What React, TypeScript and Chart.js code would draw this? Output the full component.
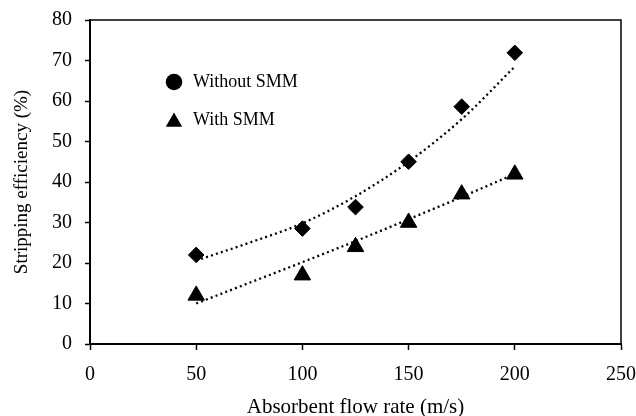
import React, { useEffect, useRef } from "react";
import { Chart, registerables } from "chart.js";

Chart.register(...registerables);

const flowRates = [50, 100, 125, 150, 175, 200];
const withoutSMM = [22.0, 28.5, 33.8, 45.0, 58.6, 71.9];
const withSMM = [12.0, 17.0, 24.0, 30.0, 37.0, 41.9];

const trendX = [50, 75, 100, 125, 150, 175, 200];
const trendWithout = [20.6, 25.0, 29.8, 36.5, 45.0, 55.5, 68.5];
const trendWith = [10.0, 15.1, 20.2, 25.4, 30.8, 36.3, 42.0];

const xTicks = [0, 50, 100, 150, 200, 250];
const yTicks = [0, 10, 20, 30, 40, 50, 60, 70, 80];

const legendLabels = ["Without SMM", "With SMM"];

const FONT = "'Liberation Serif', 'Times New Roman', serif";

const boxPlugin = {
  id: "boxAndLegend",
  afterDraw(chart: any) {
    const { ctx, chartArea } = chart;
    ctx.save();
    ctx.strokeStyle = "#000";
    ctx.lineWidth = 1.5;
    ctx.beginPath();
    ctx.moveTo(chartArea.left, chartArea.top);
    ctx.lineTo(chartArea.right, chartArea.top);
    ctx.lineTo(chartArea.right, chartArea.bottom);
    ctx.stroke();

    // legend
    const lx = 174;
    const rows = [82, 120];
    ctx.fillStyle = "#000";
    ctx.beginPath();
    ctx.arc(lx, rows[0], 8.3, 0, Math.PI * 2);
    ctx.fill();
    const r = 9.5;
    ctx.beginPath();
    ctx.moveTo(lx, rows[1] - r + 2);
    ctx.lineTo(lx + 0.866 * r, rows[1] + 0.5 * r + 2);
    ctx.lineTo(lx - 0.866 * r, rows[1] + 0.5 * r + 2);
    ctx.closePath();
    ctx.fill();
    ctx.font = `18px ${FONT}`;
    ctx.textBaseline = "middle";
    ctx.textAlign = "left";
    ctx.fillText(legendLabels[0], 193, rows[0]);
    ctx.fillText(legendLabels[1], 193, rows[1]);
    ctx.restore();
  },
};

export default function App() {
  const ref = useRef<HTMLCanvasElement | null>(null);

  useEffect(() => {
    document.body.style.margin = "0";
    const canvas = ref.current;
    if (!canvas) return;
    const pts = (xs: number[], ys: number[]) => xs.map((x, i) => ({ x, y: ys[i] }));
    const trendStyle = {
      showLine: true,
      borderColor: "#000",
      borderWidth: 2.3,
      borderDash: [2, 3.2],
      pointRadius: 0,
      cubicInterpolationMode: "monotone",
      fill: false,
    };
    const chart = new Chart(canvas, {
      type: "scatter",
      data: {
        datasets: [
          { label: "Without SMM trend", data: pts(trendX, trendWithout), ...trendStyle } as any,
          { label: "With SMM trend", data: pts(trendX, trendWith), ...trendStyle } as any,
          {
            label: legendLabels[0],
            data: pts(flowRates, withoutSMM),
            pointStyle: "rectRot",
            pointRadius: 7.8,
            backgroundColor: "#000",
            borderColor: "#000",
            borderWidth: 1,
          },
          {
            label: legendLabels[1],
            data: pts(flowRates, withSMM),
            pointStyle: "triangle",
            pointRadius: 9.5,
            backgroundColor: "#000",
            borderColor: "#000",
            borderWidth: 1,
          },
        ],
      },
      options: {
        animation: false,
        responsive: false,
        maintainAspectRatio: false,
        layout: { padding: { left: 0, right: 15, top: 20, bottom: 0 } },
        plugins: {
          legend: { display: false },
          tooltip: { enabled: false },
        },
        scales: {
          x: {
            type: "linear",
            min: 0,
            max: 250,
            afterBuildTicks: (s: any) => {
              s.ticks = xTicks.map((v) => ({ value: v }));
            },
            afterFit: (s: any) => {
              s.height = 72;
              s.paddingLeft = 0;
              s.paddingRight = 0;
            },
            grid: {
              drawOnChartArea: false,
              drawTicks: true,
              tickLength: 6,
              tickWidth: 1.5,
              tickColor: "#000",
            },
            border: { display: true, color: "#000", width: 2 },
            ticks: {
              color: "#000",
              font: { family: FONT, size: 20 },
              padding: 13,
              maxRotation: 0,
            },
            title: {
              display: true,
              text: "Absorbent flow rate (m/s)",
              color: "#000",
              font: { family: FONT, size: 21 },
              padding: { top: 0, bottom: -4 },
            },
          },
          y: {
            type: "linear",
            min: 0,
            max: 80,
            afterBuildTicks: (s: any) => {
              s.ticks = yTicks.map((v) => ({ value: v }));
            },
            afterFit: (s: any) => {
              s.width = 90;
              s.paddingTop = 0;
              s.paddingBottom = 0;
            },
            grid: {
              drawOnChartArea: false,
              drawTicks: true,
              tickLength: 5,
              tickWidth: 1.5,
              tickColor: "#000",
            },
            border: { display: true, color: "#000", width: 2 },
            ticks: {
              color: "#000",
              font: { family: FONT, size: 20 },
              padding: 13,
            },
            title: {
              display: true,
              text: "Stripping efficiency (%)",
              color: "#000",
              font: { family: FONT, size: 19 },
              padding: { top: 11, bottom: 0 },
            },
          },
        },
      },
      plugins: [boxPlugin],
    });
    return () => chart.destroy();
  }, []);

  return (
    <div style={{ width: 636, height: 416, background: "#fff" }}>
      <canvas ref={ref} width={636} height={416} style={{ display: "block" }} />
    </div>
  );
}
